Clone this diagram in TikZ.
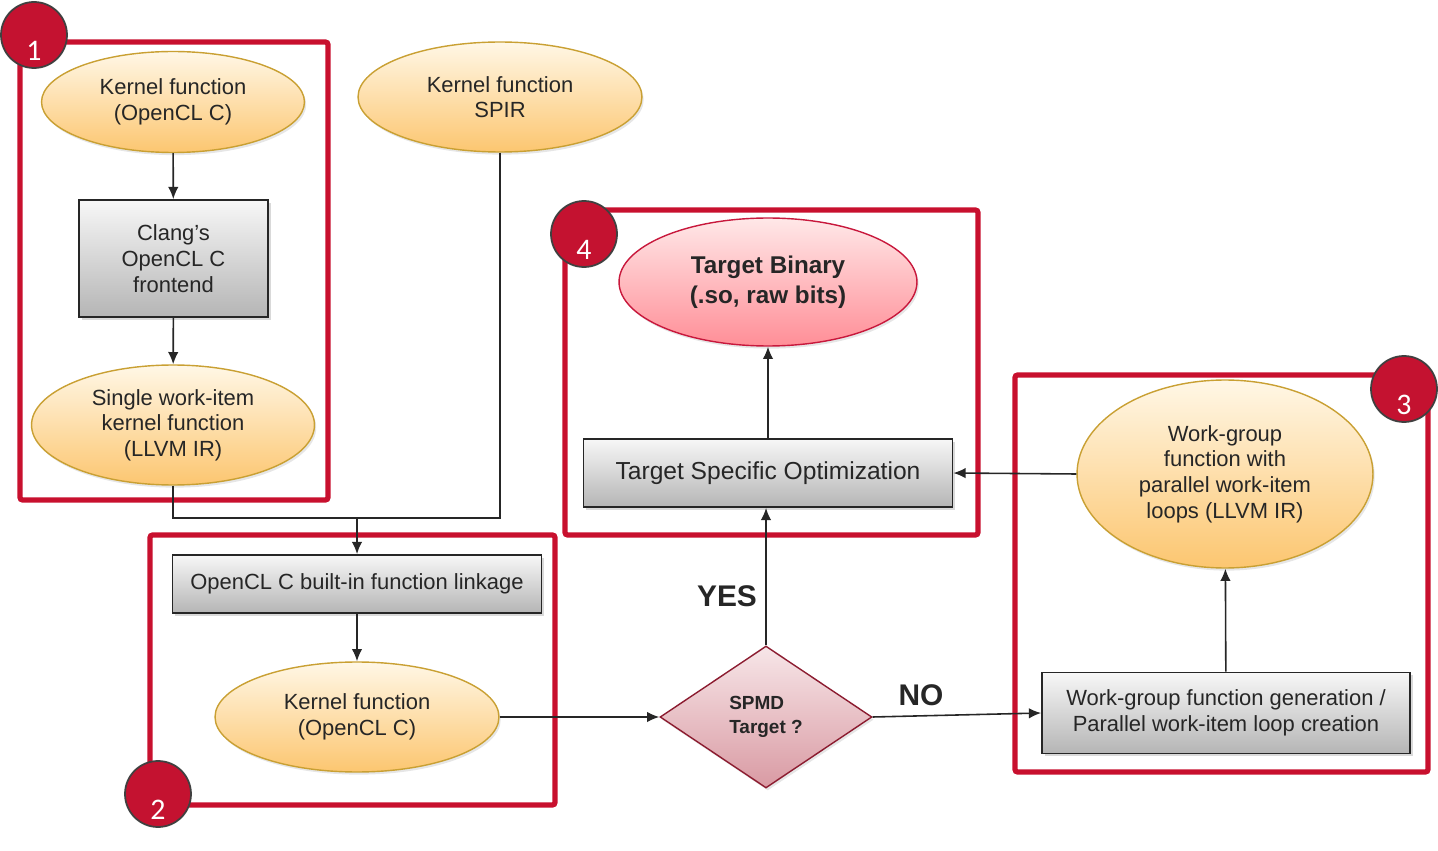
\documentclass[tikz,border=0pt]{standalone}
\usepackage{fontspec}
\setmainfont{Liberation Sans}
\newfontfamily\numfont{Carlito}
\usetikzlibrary{shapes.geometric,arrows.meta,shadows}
\definecolor{framered}{HTML}{C8102E}
\definecolor{discred}{HTML}{C41230}
\definecolor{ovaltop}{HTML}{FFF7E6}
\definecolor{ovalbot}{HTML}{FCC670}
\definecolor{ovalrim}{HTML}{C9A033}
\definecolor{boxtop}{HTML}{F7F7F7}
\definecolor{boxbot}{HTML}{B5B5B5}
\definecolor{bintop}{HTML}{FFE8E8}
\definecolor{binbot}{HTML}{FF8E97}
\definecolor{binrim}{HTML}{C8183C}
\definecolor{diatop}{HTML}{F7E6E8}
\definecolor{diabot}{HTML}{D99AA3}
\definecolor{diarim}{HTML}{8C1C30}
\tikzset{
  oval/.style={ellipse, draw=ovalrim, line width=0.8pt, top color=ovaltop, bottom color=ovalbot,
    inner sep=0pt, align=center, text=black!85, font=\fontsize{12.5}{14.6}\selectfont,
    drop shadow={shadow xshift=1pt, shadow yshift=-1.5pt, opacity=0.2}},
  procbox/.style={rectangle, draw=black!85, line width=1pt, top color=boxtop, bottom color=boxbot,
    inner sep=0pt, align=center, text=black!85, font=\fontsize{12.5}{14.6}\selectfont,
    drop shadow={shadow xshift=1.5pt, shadow yshift=-1.5pt, opacity=0.3}},
  binoval/.style={oval, draw=binrim, top color=bintop, bottom color=binbot,
    font=\bfseries\fontsize{13.8}{17}\selectfont},
  decision/.style={diamond, draw=diarim, line width=0.8pt, top color=diatop, bottom color=diabot,
    inner sep=0pt, aspect=1.5, align=left, text=black!85, font=\bfseries\fontsize{10.8}{13.6}\selectfont,
    drop shadow={shadow xshift=1pt, shadow yshift=-1.5pt, opacity=0.2}},
  branch/.style={font=\bfseries\fontsize{17}{20}\selectfont, text=black!85},
  flow/.style={draw=black!85, line width=0.9pt},
  arrow/.style={flow, -{Latex[length=7pt,width=6pt]}},
  grpframe/.style={draw=framered, line width=3pt, rounded corners=1.5pt},
  grpdisc/.style={circle, fill=discred, draw=black!75, line width=1pt, minimum size=1.32cm, inner sep=0pt},
  grpnum/.style={text=white, font=\numfont\fontsize{17}{20}\selectfont, yshift=-0.32cm}
}
\begin{document}
\begin{tikzpicture}[x=0.02cm,y=-0.02cm]
\useasboundingbox (0,0) rectangle (1438,851);
\foreach \xa/\ya/\xb/\yb in {20/42/328/500, 150/535/555/805, 1015/375/1428/772, 565/210/978/535}
\draw[grpframe] (\xa,\ya) rectangle (\xb,\yb);
\node[oval, minimum width=5.26cm, minimum height=2.02cm] (kcsrc) at (173,102) {Kernel function\\(OpenCL C)};
\node[oval, minimum width=5.68cm, minimum height=2.2cm] (spir) at (500,97) {Kernel function\\SPIR};
\node[procbox, minimum width=3.78cm, minimum height=2.34cm] (clang) at (173.5,258.5) {Clang’s\\OpenCL C\\frontend};
\node[oval, minimum width=5.66cm, minimum height=2.4cm] (single) at (173,425) {Single work-item\\kernel function\\(LLVM IR)};
\node[procbox, minimum width=7.38cm, minimum height=1.16cm] (link) at (357,584) {OpenCL C built-in function linkage};
\node[oval, minimum width=5.68cm, minimum height=2.2cm] (kclink) at (357,717) {Kernel function\\(OpenCL C)};
\node[decision, minimum width=4.24cm, minimum height=2.84cm] (spmd) at (766,717) {SPMD\\Target ?};
\node[procbox, minimum width=7.38cm, minimum height=1.36cm, font=\fontsize{14}{16}\selectfont] (opt) at (768,473) {Target Specific Optimization};
\node[binoval, minimum width=5.96cm, minimum height=2.56cm] (bin) at (768,282) {Target Binary\\(.so, raw bits)};
\node[procbox, minimum width=7.36cm, minimum height=1.62cm] (wgen) at (1226,713) {Work-group function generation /\\Parallel work-item loop creation};
\node[oval, minimum width=5.92cm, minimum height=3.76cm] (wgloop) at (1225,474) {Work-group\\function with\\parallel work-item\\loops (LLVM IR)};
\node[branch] (yes) at (727,596) {YES};
\node[branch] (no) at (921,695) {NO};
\coordinate (join) at (357,518);
\draw[arrow] (kcsrc) -- (clang);
\draw[arrow] (clang) -- (single);
\draw[flow] (single.south) |- (join);
\draw[flow] (spir.south) |- (join);
\draw[arrow] (join) -- (link.north);
\draw[arrow] (link) -- (kclink);
\draw[arrow] (kclink.east) -- (spmd.west);
\draw[arrow] (spmd.north) -- (spmd.north |- opt.south);
\draw[arrow] (opt) -- (bin);
\draw[arrow] (spmd.east) -- (wgen.west);
\draw[arrow] (wgen) -- (wgloop);
\draw[arrow] (wgloop.west) -- (opt.east);
\foreach \cx/\cy/\n in {34/35/1, 158/794/2, 1404/389/3, 584/234/4}
\node[grpdisc, label={[grpnum]center:\n}] (disc\n) at (\cx,\cy) {};
\end{tikzpicture}
\end{document}
